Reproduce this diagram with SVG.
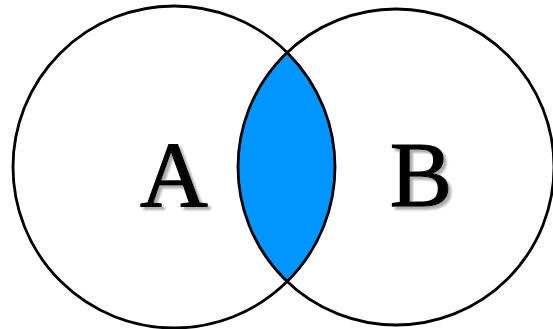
<svg xmlns="http://www.w3.org/2000/svg" width="553" height="329" viewBox="0 0 553 329">
<style>
.ring{fill:none;stroke:#000;stroke-width:2.8}
.lbl{font-family:"Liberation Serif","Times New Roman",serif;font-weight:normal;font-size:94px;fill:#000;stroke:#000;stroke-width:1.2;filter:url(#shadow)}
</style>
<defs>
<clipPath id="clipL"><circle cx="174" cy="167" r="161"/></clipPath>
<filter id="shadow" x="-20%" y="-20%" width="150%" height="150%">
<feDropShadow dx="3" dy="3" stdDeviation="1.2" flood-color="#999" flood-opacity="0.8"/>
</filter>
</defs>
<rect width="553" height="329" fill="#fff"/>
<g id="intersection">
<circle cx="396" cy="167" r="158" fill="#0095ff" clip-path="url(#clipL)"/>
</g>
<g id="setA">
<circle class="ring" cx="174" cy="167" r="161"/>
<text class="lbl" x="174" y="206" text-anchor="middle">A</text>
</g>
<g id="setB">
<circle class="ring" cx="396" cy="167" r="158"/>
<text class="lbl" x="421" y="206" text-anchor="middle">B</text>
</g>
<g id="connectors"></g>
</svg>
